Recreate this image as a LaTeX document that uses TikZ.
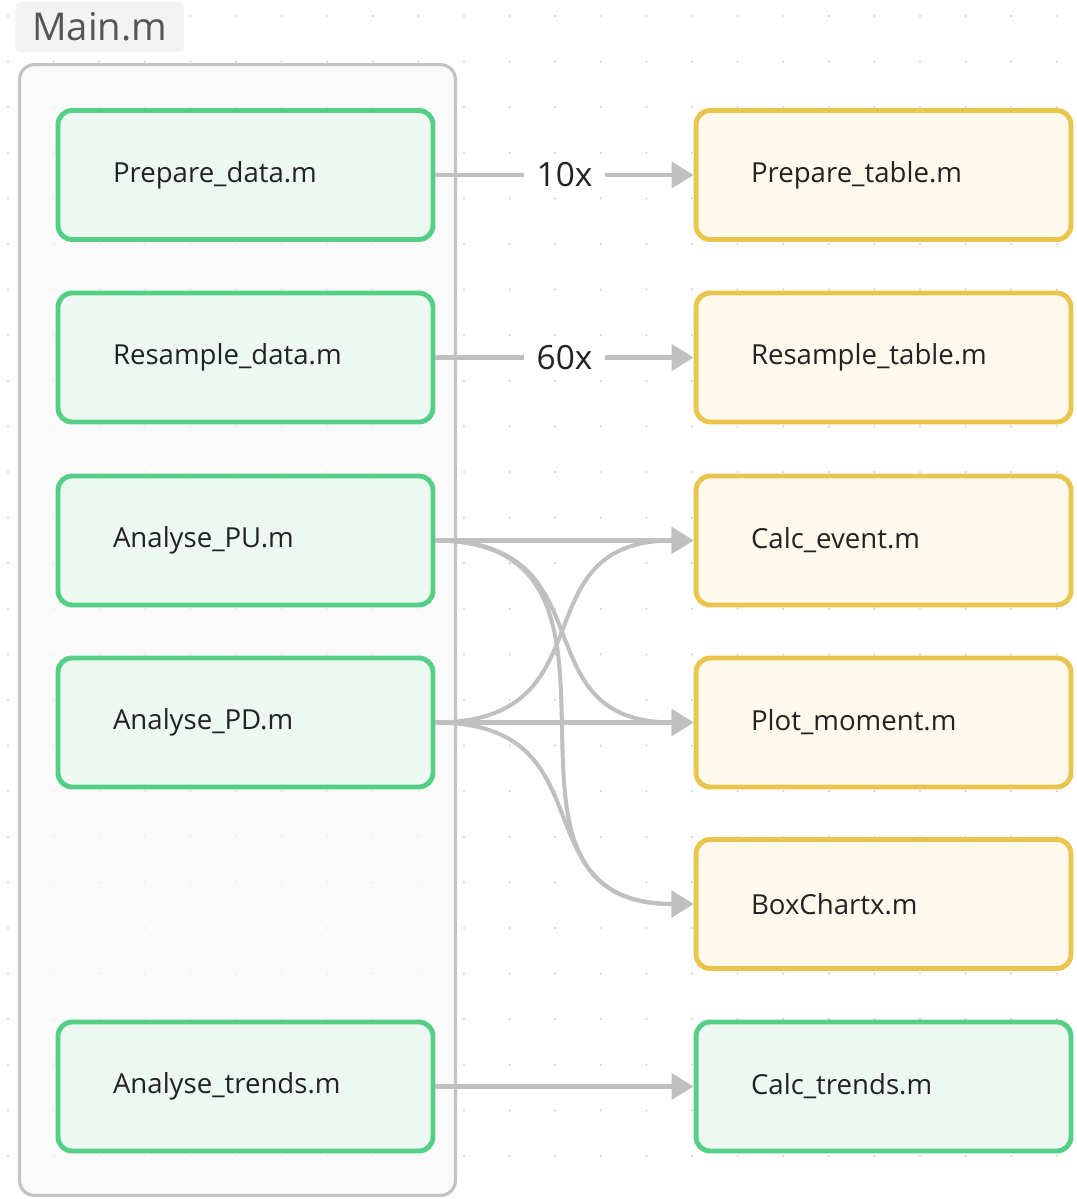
\documentclass[tikz,border=0pt]{standalone}
\usepackage{fontspec}
\setmainfont{Open Sans}
\usetikzlibrary{arrows.meta}

\begin{document}
\begin{tikzpicture}[x=0.02cm,y=-0.02cm,
		file/.style={rounded corners=0.28cm,line width=2.8pt,minimum width=7.5cm,minimum height=2.58cm,
			text width=5.3cm,align=left,inner xsep=1.06cm,text=boxtext,font=\fontsize{15.7}{18}\selectfont},
		greenfile/.style={file,draw=fgreen,fill=lgreen},
		yellowfile/.style={file,draw=fyellow,fill=lyellow},
		link/.style={line width=2.3pt,draw=linkgrey,-{Triangle[length=0.44cm,width=0.52cm]}},
		count/.style={fill=white,inner xsep=0.26cm,inner ysep=0.05cm,text=boxtext,font=\fontsize{19}{22}\selectfont}]
		\definecolor{fgreen}{HTML}{55CF86}
		\definecolor{lgreen}{HTML}{EEF8F2}
		\definecolor{fyellow}{HTML}{E9C54E}
		\definecolor{lyellow}{HTML}{FDF9EC}
		\definecolor{linkgrey}{HTML}{C0C0C0}
		\definecolor{frame}{HTML}{C3C3C3}
		\definecolor{framefill}{HTML}{F8F8F8}
		\definecolor{titlefill}{HTML}{F3F3F3}
		\definecolor{titletext}{HTML}{555555}
		\definecolor{boxtext}{HTML}{222222}
		\definecolor{dotgrey}{HTML}{D6D6D6}
		
		\useasboundingbox[fill=white] (0,0) rectangle (1076,1199);
		
		% dot grid
		\foreach \i in {0,...,23}
			\foreach \j in {0,...,25}
				\fill[dotgrey] (8+45.6*\i,16+45.6*\j) circle[radius=0.7pt];
		
		% container
		\node[draw=frame,fill=framefill,fill opacity=0.7,draw opacity=1,line width=1.8pt,rounded corners=0.3cm,
			minimum width=8.72cm,minimum height=22.62cm] (main) at (237.5,630) {};
		\node[anchor=west,fill=titlefill,rounded corners=0.1cm,inner xsep=0.34cm,minimum height=1cm,
			text=titletext,font=\fontsize{21.8}{24}\selectfont] (title) at (15,27) {Main.m};
		
		% left column
		\node[greenfile] (prep) at (245.5,175) {Prepare\_data.m};
		\node[greenfile] (resa) at (245.5,357.5) {Resample\_data.m};
		\node[greenfile] (apu) at (245.5,540.5) {Analyse\_PU.m};
		\node[greenfile] (apd) at (245.5,722.5) {Analyse\_PD.m};
		\node[greenfile] (atr) at (245.5,1086.5) {Analyse\_trends.m};
		
		% right column
		\node[yellowfile] (ptab) at (883.5,175) {Prepare\_table.m};
		\node[yellowfile] (rtab) at (883.5,357.5) {Resample\_table.m};
		\node[yellowfile] (cev) at (883.5,540.5) {Calc\_event.m};
		\node[yellowfile] (pmom) at (883.5,722.5) {Plot\_moment.m};
		\node[yellowfile] (box) at (883.5,904) {BoxChartx.m};
		\node[greenfile] (ctr) at (883.5,1086.5) {Calc\_trends.m};
		
		% links
		\draw[link] (prep.east) -- node[count] {10x} (ptab.west);
		\draw[link] (resa.east) -- node[count] {60x} (rtab.west);
		\draw[link] (apu.east) -- (cev.west);
		\draw[link] (apu.east) .. controls +(177,0) and +(-177,0) .. (pmom.west);
		\draw[link] (apu.east) .. controls +(240,0) and +(-240,0) .. (box.west);
		\draw[link] (apd.east) .. controls +(177,0) and +(-177,0) .. (cev.west);
		\draw[link] (apd.east) -- (pmom.west);
		\draw[link] (apd.east) .. controls +(177,0) and +(-177,0) .. (box.west);
		\draw[link] (atr.east) -- (ctr.west);
\end{tikzpicture}
\end{document}
